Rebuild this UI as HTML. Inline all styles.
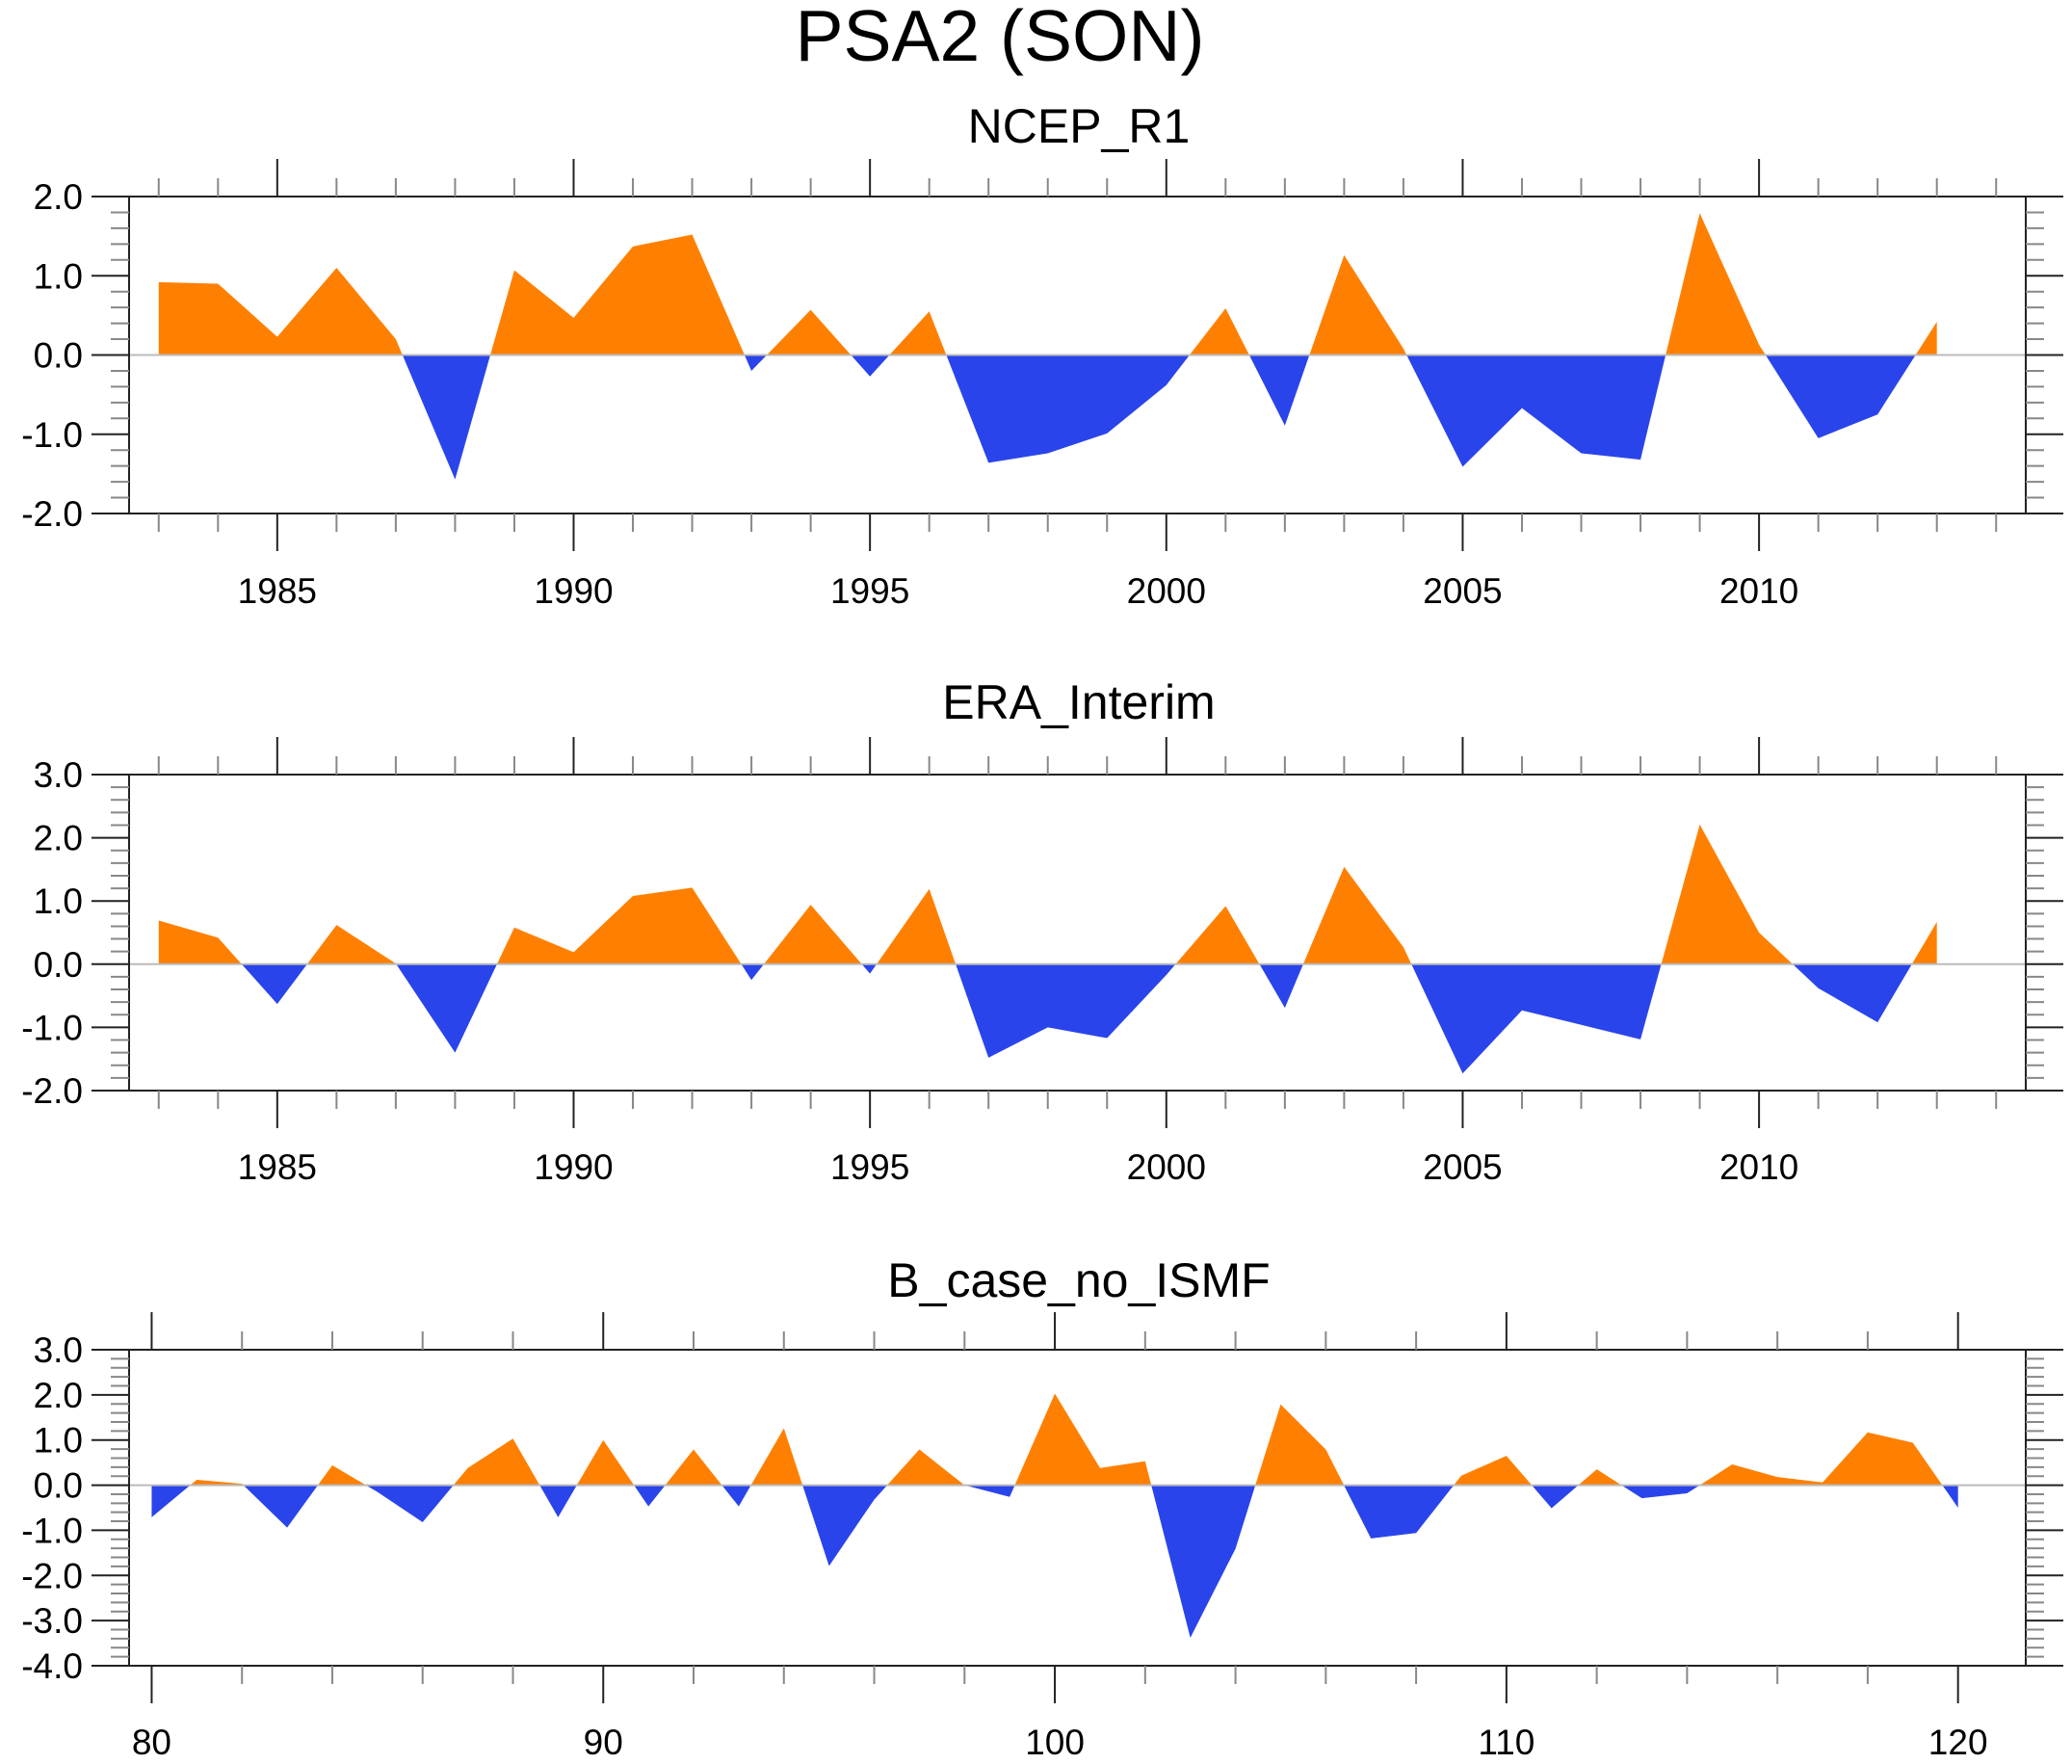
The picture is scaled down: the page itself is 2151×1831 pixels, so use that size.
<!DOCTYPE html>
<html><head><meta charset="utf-8"><style>
html,body{margin:0;padding:0;background:#fff}
svg{display:block}
text{font-family:"Liberation Sans",Arial,sans-serif;fill:#000}
</style></head>
<body>
<svg id="chart" width="2151" height="1831" viewBox="0 0 2151 1831" xmlns="http://www.w3.org/2000/svg">
<text x="1038" y="63" font-size="75" text-anchor="middle">PSA2 (SON)</text>
</svg>
<script>
const yearsA = [1983,1984,1985,1986,1987,1988,1989,1990,1991,1992,1993,1994,1995,1996,1997,1998,1999,2000,2001,2002,2003,2004,2005,2006,2007,2008,2009,2010,2011,2012,2013];
const ncepValues = [0.92,0.9,0.23,1.1,0.2,-1.57,1.07,0.47,1.37,1.52,-0.2,0.57,-0.27,0.55,-1.36,-1.24,-0.99,-0.38,0.59,-0.89,1.26,0.08,-1.41,-0.67,-1.24,-1.32,1.79,0.13,-1.05,-0.75,0.42];
const eraValues = [0.69,0.42,-0.63,0.62,0.01,-1.4,0.58,0.19,1.08,1.21,-0.25,0.94,-0.15,1.19,-1.48,-1.0,-1.17,-0.17,0.92,-0.69,1.54,0.27,-1.73,-0.73,-0.96,-1.19,2.21,0.5,-0.38,-0.92,0.67];
const modelYears = [80,81,82,83,84,85,86,87,88,89,90,91,92,93,94,95,96,97,98,99,100,101,102,103,104,105,106,107,108,109,110,111,112,113,114,115,116,117,118,119,120];
const modelValues = [-0.71,0.12,0.03,-0.94,0.44,-0.15,-0.82,0.38,1.03,-0.71,1.0,-0.47,0.79,-0.47,1.26,-1.79,-0.32,0.79,0.0,-0.26,2.03,0.38,0.53,-3.38,-1.41,1.79,0.79,-1.18,-1.06,0.21,0.65,-0.51,0.35,-0.29,-0.18,0.46,0.18,0.06,1.17,0.94,-0.5];
const ticksA = [1985,1990,1995,2000,2005,2010];
const ticksB = [80,90,100,110,120];

const NS = 'http://www.w3.org/2000/svg';
const svg = document.getElementById('chart');
function mk(tag, attrs, parent){const e=document.createElementNS(NS,tag);for(const k in attrs)e.setAttribute(k,attrs[k]);(parent||svg).appendChild(e);return e;}

const panels = [
 {key:'ncep', title:'NCEP_R1', xs:yearsA, ys:ncepValues, xmin:1982.5, xmax:2014.5, ymin:-2, ymax:2, top:204, bot:533, titleY:148, labY:626, majors:ticksA, minorStep:1, minorStart:1983, minorEnd:2014},
 {key:'era', title:'ERA_Interim', xs:yearsA, ys:eraValues, xmin:1982.5, xmax:2014.5, ymin:-2, ymax:3, top:804, bot:1132, titleY:746, labY:1224, majors:ticksA, minorStep:1, minorStart:1983, minorEnd:2014},
 {key:'model', title:'B_case_no_ISMF', xs:modelYears, ys:modelValues, xmin:79.5, xmax:121.5, ymin:-4, ymax:3, top:1401, bot:1729, titleY:1346, labY:1821, majors:ticksB, minorStep:2, minorStart:80, minorEnd:121}
];
const L=134, R=2103;
panels.forEach((p,pi)=>{
  const g = mk('g',{});
  
  
  const sx = v => L + (v-p.xmin)/(p.xmax-p.xmin)*(R-L);
  const sy = v => p.bot - (v-p.ymin)/(p.ymax-p.ymin)*(p.bot-p.top);
  const t = mk('text',{x:1120,y:p.titleY,'font-size':50,'text-anchor':'middle'},g);
  t.textContent = p.title;
  
  
  const y0 = sy(0);
  let d = 'M'+sx(p.xs[0])+','+y0;
  p.xs.forEach((x,i)=>{ d += ' L'+sx(x)+','+sy(p.ys[i]); });
  d += ' L'+sx(p.xs[p.xs.length-1])+','+y0+' Z';
  const defs = mk('defs',{},g);
  const c1 = mk('clipPath',{id:'pos'+pi},defs); mk('rect',{x:L,y:p.top,width:R-L,height:y0-p.top},c1);
  const c2 = mk('clipPath',{id:'neg'+pi},defs); mk('rect',{x:L,y:y0,width:R-L,height:p.bot-y0},c2);
  const a1 = mk('path',{d:d,fill:'#FF8000','clip-path':'url(#pos'+pi+')'},g);
  
  
  const a2 = mk('path',{d:d,fill:'#2A44EB','clip-path':'url(#neg'+pi+')'},g);
  
  
  const zl = mk('line',{x1:L,x2:R,y1:y0,y2:y0,stroke:'#bbb','stroke-width':2},g);
  
  
  const fr = mk('rect',{x:L,y:p.top,width:R-L,height:p.bot-p.top,fill:'none',stroke:'#222','stroke-width':2},g);
  
  
  for(let v=p.minorStart; v<=p.minorEnd; v+=p.minorStep){
    const x=sx(v); const maj=p.majors.includes(v); const len=maj?39:19;
    mk('line',{x1:x,x2:x,y1:p.top,y2:p.top-len,stroke:maj?'#222':'#888','stroke-width':2},g);
    mk('line',{x1:x,x2:x,y1:p.bot,y2:p.bot+len,stroke:maj?'#222':'#888','stroke-width':2},g);
  }
  p.majors.forEach(v=>{
    const tl = mk('text',{x:sx(v),y:p.labY,'font-size':37,'text-anchor':'middle'},g);
    tl.textContent = String(v);
    
    
  });
  for(let k=Math.round(p.ymin*5); k<=Math.round(p.ymax*5); k++){
    const v=k/5, y=sy(v), maj=(k%5===0), len=maj?39:19;
    mk('line',{x1:L,x2:L-len,y1:y,y2:y,stroke:maj?'#222':'#888','stroke-width':2},g);
    mk('line',{x1:R,x2:R+len,y1:y,y2:y,stroke:maj?'#222':'#888','stroke-width':2},g);
    if(maj){
      const yl = mk('text',{x:86,y:y+13,'font-size':37,'text-anchor':'end'},g);
      yl.textContent = v.toFixed(1);
      
      
    }
  }
});
</script>
</body></html>
